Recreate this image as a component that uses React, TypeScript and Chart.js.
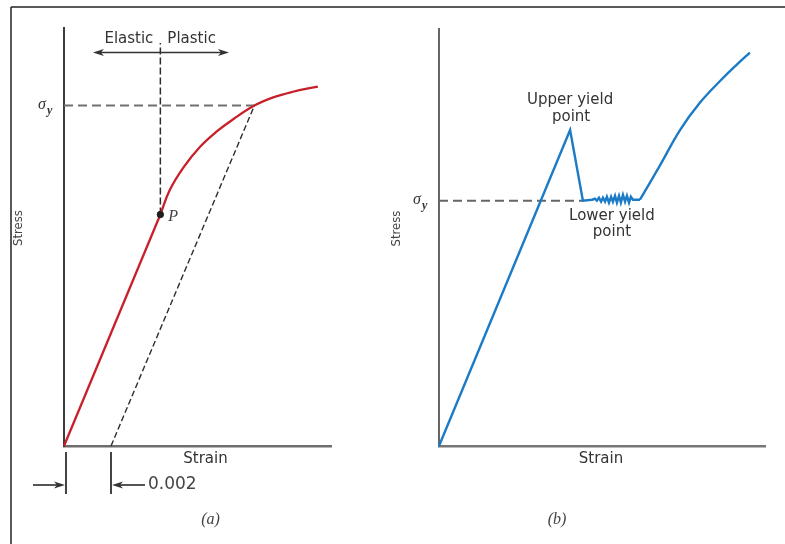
import React, { useEffect, useRef } from "react";
import { Chart, registerables } from "chart.js";

Chart.register(...registerables);

const W = 785;
const H = 544;

// ---------- Panel (a): gradual yielding, 0.002 strain offset ----------
const strainA = [0, 0.0041, 0.0045, 0.0051, 0.0058, 0.0065, 0.0072, 0.0081, 0.0089, 0.0097, 0.0108];
const stressA = [0, 170, 188, 205, 220, 231, 240, 250, 256, 260, 264];
const strainRangeA = [0, 0.01136];
const stressRangeA = [0, 307];
const offsetStrainA = 0.002;
const yieldStrainA = 0.0081;
const yieldStressA = 250;
const proportionalStrainA = 0.0041;
const proportionalStressA = 170;
const dividerTopStressA = 296;
const arrowStrainA = [0.00123, 0.00702];
const arrowStressA = 289;

// ---------- Panel (b): upper / lower yield point ----------
const strainB = [
  0, 0.0563, 0.0618,
  0.0657, 0.067, 0.0678, 0.0687, 0.0696, 0.0704, 0.0713, 0.0721, 0.073, 0.0739, 0.0747,
  0.0756, 0.0764, 0.0773, 0.0781, 0.079, 0.0799, 0.0807, 0.0816, 0.0824, 0.0833, 0.0863,
  0.0949, 0.1035, 0.1121, 0.1207, 0.128, 0.1335,
];
const stressB = [
  0, 322, 250,
  251, 252, 250, 253, 249, 253, 249, 254, 248, 254, 249,
  255, 248, 255, 248, 256, 249, 255, 248, 254, 251, 251,
  286, 322, 350, 372, 389, 401,
];
const hardeningStartB = 24; // index where strain hardening begins
const strainRangeB = [0, 0.14];
const stressRangeB = [0, 425];
const yieldStressB = 250;
const lowerYieldStrainB = 0.0618;
const upperYieldStrainB = 0.0563;
const upperYieldStressB = 322;

// ---------- Texts ----------
const xTitle = "Strain";
const yTitle = "Stress";
const elasticLabel = "Elastic";
const plasticLabel = "Plastic";
const pLabel = "P";
const offsetLabel = "0.002";
const upperLabel = ["Upper yield", "point"];
const lowerLabel = ["Lower yield", "point"];
const captionA = "(a)";
const captionB = "(b)";

const SANS = "'DejaVu Sans', sans-serif";
const SERIF = "'Liberation Serif', 'DejaVu Serif', serif";
const TEXT = "#333333";

function pts(xs: number[], ys: number[]) {
  return xs.map((x, i) => ({ x, y: ys[i] }));
}

function text(ctx: CanvasRenderingContext2D, s: string, x: number, y: number, font: string, align: CanvasTextAlign = "center", color = TEXT) {
  ctx.save();
  ctx.font = font;
  ctx.fillStyle = color;
  ctx.textAlign = align;
  ctx.textBaseline = "middle";
  ctx.fillText(s, x, y);
  ctx.restore();
}

function arrowHead(ctx: CanvasRenderingContext2D, x: number, y: number, dir: number, color: string) {
  ctx.save();
  ctx.fillStyle = color;
  ctx.beginPath();
  ctx.moveTo(x, y);
  ctx.lineTo(x - dir * 11, y - 3.5);
  ctx.lineTo(x - dir * 8, y);
  ctx.lineTo(x - dir * 11, y + 3.5);
  ctx.closePath();
  ctx.fill();
  ctx.restore();
}

function line(ctx: CanvasRenderingContext2D, x1: number, y1: number, x2: number, y2: number, color: string, w: number) {
  ctx.save();
  ctx.strokeStyle = color;
  ctx.lineWidth = w;
  ctx.beginPath();
  ctx.moveTo(x1, y1);
  ctx.lineTo(x2, y2);
  ctx.stroke();
  ctx.restore();
}

function sigmaY(ctx: CanvasRenderingContext2D, axisX: number, y: number) {
  text(ctx, "σ", axisX - 26, y - 1, `italic 16px ${SERIF}`, "left", "#333");
  text(ctx, "y", axisX - 17, y + 5, `italic bold 12px ${SERIF}`, "left", "#333");
}

function stressTitle(ctx: CanvasRenderingContext2D, x: number, y: number) {
  ctx.save();
  ctx.translate(x, y);
  ctx.rotate(-Math.PI / 2);
  text(ctx, yTitle, 0, 0, `13px 'DejaVu Sans Condensed', ${SANS}`, "center", "#444");
  ctx.restore();
}

function scales(xr: number[], yr: number[], xColor: string, yColor: string) {
  const common = {
    type: "linear" as const,
    grid: { display: false, drawTicks: false },
    ticks: { display: false },
    title: { display: false },
  };
  return {
    x: { ...common, min: xr[0], max: xr[1], border: { display: true, color: xColor, width: 2.5 } },
    y: { ...common, min: yr[0], max: yr[1], border: { display: true, color: yColor, width: 2 } },
  };
}

const annotA = {
  id: "annotA",
  afterDraw(chart: any) {
    const ctx: CanvasRenderingContext2D = chart.ctx;
    const xs = chart.scales.x;
    const ys = chart.scales.y;
    const ca = chart.chartArea;

    // outer frame (left + top)
    line(ctx, 11, 7, 11, H, "#222", 1.5);
    line(ctx, 11, 7, W, 7, "#222", 1.5);

    // Elastic / Plastic double arrow
    const ay = ys.getPixelForValue(arrowStressA);
    const ax1 = xs.getPixelForValue(arrowStrainA[0]);
    const ax2 = xs.getPixelForValue(arrowStrainA[1]);
    line(ctx, ax1 + 4, ay, ax2 - 4, ay, "#333", 1.5);
    arrowHead(ctx, ax1, ay, -1, "#333");
    arrowHead(ctx, ax2, ay, 1, "#333");
    const px = xs.getPixelForValue(proportionalStrainA);
    const ty = ys.getPixelForValue(dividerTopStressA) - 4;
    text(ctx, elasticLabel, px - 7, ty, `15px ${SANS}`, "right");
    text(ctx, plasticLabel, px + 7, ty, `15px ${SANS}`, "left");

    // P label
    const py = ys.getPixelForValue(proportionalStressA);
    text(ctx, pLabel, px + 8, py + 2, `italic 16px ${SERIF}`, "left", "#444");

    // sigma y
    sigmaY(ctx, ca.left, ys.getPixelForValue(yieldStressA));

    // axis titles
    text(ctx, xTitle, (ca.left + ca.right) / 2 + 8, ca.bottom + 13, `15px ${SANS}`);
    stressTitle(ctx, ca.left - 45, (ca.top + ca.bottom) / 2 - 9);

    // 0.002 offset dimension
    const x0 = xs.getPixelForValue(0) + 2;
    const x1 = xs.getPixelForValue(offsetStrainA);
    const t1 = ca.bottom + 6;
    const t2 = ca.bottom + 48;
    const dy = ca.bottom + 39;
    line(ctx, x0, t1, x0, t2, "#444", 2);
    line(ctx, x1, t1, x1, t2, "#444", 2);
    line(ctx, x0 - 33, dy, x0 - 6, dy, "#555", 2);
    arrowHead(ctx, x0 - 1, dy, 1, "#333");
    line(ctx, x1 + 6, dy, x1 + 34, dy, "#555", 2);
    arrowHead(ctx, x1 + 1, dy, -1, "#333");
    text(ctx, offsetLabel, x1 + 37, dy, `17px ${SANS}`, "left", "#444");

    // caption
    text(ctx, captionA, (ca.left + ca.right) / 2 + 13, ca.bottom + 74, `italic 16px ${SERIF}`, "center", "#444");
  },
};

const annotB = {
  id: "annotB",
  afterDraw(chart: any) {
    const ctx: CanvasRenderingContext2D = chart.ctx;
    const xs = chart.scales.x;
    const ys = chart.scales.y;
    const ca = chart.chartArea;

    sigmaY(ctx, ca.left, ys.getPixelForValue(yieldStressB));

    const ux = xs.getPixelForValue(upperYieldStrainB);
    const uy = ys.getPixelForValue(upperYieldStressB);
    text(ctx, upperLabel[0], ux, uy - 30, `15px ${SANS}`);
    text(ctx, upperLabel[1], ux + 1, uy - 13, `15px ${SANS}`);

    const lx = xs.getPixelForValue(lowerYieldStrainB);
    const ly = ys.getPixelForValue(yieldStressB);
    text(ctx, lowerLabel[0], lx + 29, ly + 15, `15px ${SANS}`);
    text(ctx, lowerLabel[1], lx + 29, ly + 31, `15px ${SANS}`);

    text(ctx, xTitle, (ca.left + ca.right) / 2 - 1, ca.bottom + 13, `15px ${SANS}`);
    stressTitle(ctx, ca.left - 42, (ca.top + ca.bottom) / 2 - 9);

    text(ctx, captionB, (ca.left + ca.right) / 2 - 45, ca.bottom + 74, `italic 16px ${SERIF}`, "center", "#444");
  },
};

export default function App() {
  const refA = useRef<HTMLCanvasElement | null>(null);
  const refB = useRef<HTMLCanvasElement | null>(null);

  useEffect(() => {
    document.body.style.margin = "0";
    const curveA = pts(strainA, stressA);
    const chartA = new Chart(refA.current as HTMLCanvasElement, {
      type: "line",
      data: {
        datasets: [
          {
            data: [{ x: proportionalStrainA, y: proportionalStressA }],
            showLine: false,
            pointRadius: 3.2,
            pointBackgroundColor: "#1e1e1e",
            pointBorderColor: "#1e1e1e",
            order: 0,
            clip: false,
          },
          {
            // elastic (straight) part
            data: curveA.slice(0, 2),
            borderColor: "#c8202a",
            borderWidth: 2.3,
            pointRadius: 0,
            tension: 0,
            order: 1,
            clip: false,
          },
          {
            // plastic (curved) part
            data: curveA.slice(1),
            borderColor: "#c8202a",
            borderWidth: 2.3,
            pointRadius: 0,
            tension: 0.4,
            order: 1,
            clip: false,
          },
          {
            data: [{ x: 0, y: yieldStressA }, { x: yieldStrainA, y: yieldStressA }],
            borderColor: "#717171",
            borderWidth: 2,
            borderDash: [9, 5],
            pointRadius: 0,
            order: 2,
            clip: false,
          },
          {
            data: [{ x: proportionalStrainA, y: proportionalStressA }, { x: proportionalStrainA, y: dividerTopStressA }],
            borderColor: "#2e2e2e",
            borderWidth: 1.5,
            borderDash: [7, 3],
            pointRadius: 0,
            order: 3,
            clip: false,
          },
          {
            data: [{ x: offsetStrainA, y: 0 }, { x: yieldStrainA, y: yieldStressA }],
            borderColor: "#2e2e2e",
            borderWidth: 1.4,
            borderDash: [6, 3],
            pointRadius: 0,
            order: 4,
            clip: false,
          },
        ],
      },
      options: {
        animation: false,
        responsive: false,
        devicePixelRatio: 1,
        events: [],
        layout: { padding: { left: 64, top: 28, right: W - 331, bottom: H - 446 } },
        plugins: { legend: { display: false }, tooltip: { enabled: false } },
        scales: scales(strainRangeA, stressRangeA, "#6e6e6e", "#3c3c3c") as any,
      },
      plugins: [annotA],
    });

    const curveB = pts(strainB, stressB);
    const chartB = new Chart(refB.current as HTMLCanvasElement, {
      type: "line",
      data: {
        datasets: [
          {
            // elastic, upper yield, drop and serrated lower yield
            data: curveB.slice(0, hardeningStartB + 1),
            borderColor: "#1b7bc6",
            borderWidth: 2.4,
            pointRadius: 0,
            tension: 0,
            order: 0,
            clip: false,
          },
          {
            // strain hardening
            data: curveB.slice(hardeningStartB),
            borderColor: "#1b7bc6",
            borderWidth: 2.4,
            pointRadius: 0,
            tension: 0.4,
            order: 0,
            clip: false,
          },
          {
            data: [{ x: 0, y: yieldStressB }, { x: lowerYieldStrainB, y: yieldStressB }],
            borderColor: "#666666",
            borderWidth: 2,
            borderDash: [9, 5],
            pointRadius: 0,
            order: 1,
            clip: false,
          },
        ],
      },
      options: {
        animation: false,
        responsive: false,
        devicePixelRatio: 1,
        events: [],
        layout: { padding: { left: 439, top: 29, right: W - 765, bottom: H - 446 } },
        plugins: { legend: { display: false }, tooltip: { enabled: false } },
        scales: scales(strainRangeB, stressRangeB, "#777777", "#666666") as any,
      },
      plugins: [annotB],
    });

    return () => {
      chartA.destroy();
      chartB.destroy();
    };
  }, []);

  return (
    <div style={{ position: "fixed", left: 0, top: 0, width: W, height: H, background: "#fff" }}>
      <canvas ref={refA} width={W} height={H} style={{ position: "absolute", left: 0, top: 0, width: W, height: H }} />
      <canvas ref={refB} width={W} height={H} style={{ position: "absolute", left: 0, top: 0, width: W, height: H }} />
    </div>
  );
}
